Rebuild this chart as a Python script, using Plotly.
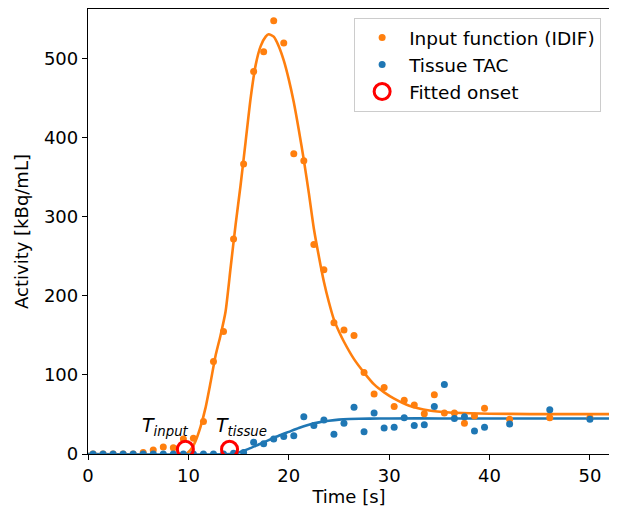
import plotly.graph_objects as go

# sample times [s]: 1 s frames up to 40 s, then 4 s frames
time_s = [0.5, 1.5, 2.5, 3.5, 4.5, 5.5, 6.5, 7.5, 8.5, 9.5,
          10.5, 11.5, 12.5, 13.5, 14.5, 15.5, 16.5, 17.5, 18.5, 19.5,
          20.5, 21.5, 22.5, 23.5, 24.5, 25.5, 26.5, 27.5, 28.5, 29.5,
          30.5, 31.5, 32.5, 33.5, 34.5, 35.5, 36.5, 37.5, 38.5, 39.5,
          42, 46, 50]

# input function (IDIF) samples [kBq/mL]
idif = [0, 0, 0, 0, 0, 2, 5, 9, 8, 19,
        20, 41, 117, 155, 272, 367, 484, 509, 548, 520,
        380, 371, 265, 233, 166, 157, 150, 103, 76, 84,
        60, 68, 62, 51, 75, 52, 52, 39, 48, 58,
        44, 46, 46]

# tissue TAC samples [kBq/mL]
tissue = [0, 0, 0, 0, 0, 0, 0, 0, 0, 0,
          0, 0, 0, 0, 1, 2, 15, 13, 19, 22,
          23, 47, 36, 43, 25, 39, 59, 28, 52, 33,
          34, 46, 36, 37, 60, 88, 45, 47, 29, 34,
          38, 56, 44]

# fitted curves
fit_idif_t = [0, 9.7, 10.2, 10.7, 11.2, 11.7, 12.2, 12.7, 13.2, 13.7,
              14.2, 14.7, 15.2, 15.7, 16.2, 16.7, 17.2, 17.7, 18.0, 18.5,
              19.0, 19.5, 20.0, 20.5, 21.0, 21.5, 22.0, 22.5, 23.0, 23.5,
              24.0, 24.5, 25.0, 25.5, 26.5, 27.5, 28.5, 29.5, 30.5, 32,
              34, 36, 38, 40, 44, 52]
fit_idif = [0, 0, 5, 16, 34, 58, 90, 124, 150, 180,
            235, 290, 340, 395, 450, 492, 516, 528, 531, 528,
            516, 498, 474, 445, 410, 372, 330, 285, 250, 218,
            192, 170, 155, 142, 120, 103, 88, 78, 70, 61,
            55, 52.5, 51.5, 51, 50.5, 50.5]

fit_tissue_t = [0, 14.1, 15, 16, 17, 18, 19, 20, 21, 22, 23, 24, 25, 26, 28, 30, 35, 52]
fit_tissue = [0, 0, 2, 6.5, 12, 17.5, 23, 28, 33, 37, 40, 42, 43.5, 44.2, 44.8, 45, 45, 45]

# fitted onsets
onset_t = [9.7, 14.1]
onset_y = [6, 6]

ORANGE = '#ff7f0e'
BLUE = '#1f77b4'
FONT = 'DejaVu Sans'

fig = go.Figure()

fig.add_trace(go.Scatter(x=fit_idif_t, y=fit_idif, mode='lines', showlegend=False,
                         line=dict(color=ORANGE, width=2.6, shape='spline', smoothing=0.6)))
fig.add_trace(go.Scatter(x=fit_tissue_t, y=fit_tissue, mode='lines', showlegend=False,
                         line=dict(color=BLUE, width=2.6, shape='spline', smoothing=0.6)))
fig.add_trace(go.Scatter(x=time_s, y=idif, mode='markers', name='Input function (IDIF)',
                         marker=dict(color=ORANGE, size=7)))
fig.add_trace(go.Scatter(x=time_s, y=tissue, mode='markers', name='Tissue TAC',
                         marker=dict(color=BLUE, size=7)))
fig.add_trace(go.Scatter(x=onset_t, y=onset_y, mode='markers', name='Fitted onset',
                         marker=dict(symbol='circle-open', color='red', size=16,
                                     line=dict(color='red', width=3))))

fig.add_annotation(x=5.2, y=35, xref='x', yref='y', xanchor='left', yanchor='middle',
                   text='<i>T</i><sub><i>input</i></sub>', showarrow=False,
                   font=dict(family=FONT, size=19, color='black'))
fig.add_annotation(x=12.6, y=35, xref='x', yref='y', xanchor='left', yanchor='middle',
                   text='<i>T</i><sub><i>tissue</i></sub>', showarrow=False,
                   font=dict(family=FONT, size=19, color='black'))

axis_style = dict(showline=True, linecolor='black', linewidth=1.3, mirror=True,
                  ticks='outside', ticklen=5, tickwidth=1.3, tickcolor='black',
                  showgrid=False, zeroline=False, automargin=False,
                  tickfont=dict(family=FONT, size=18, color='black'),
                  title_font=dict(family=FONT, size=18, color='black'))

# the page body adds an 8 px offset, so the figure is 8 px smaller each way
fig.update_layout(
    width=609,
    height=502,
    margin=dict(l=80, r=7, t=1, b=56),
    paper_bgcolor='white',
    plot_bgcolor='white',
    font=dict(family=FONT, size=18, color='black'),
    xaxis=dict(range=[0, 52], tickvals=[0, 10, 20, 30, 40, 50], title_text='Time [s]',
               title_standoff=4, **axis_style),
    yaxis=dict(range=[0, 563], tickvals=[0, 100, 200, 300, 400, 500],
               title_text='Activity [kBq/mL]', title_standoff=10, **axis_style),
    legend=dict(x=0.983, y=0.98, xanchor='right', yanchor='top',
                bgcolor='rgba(255,255,255,0.8)', bordercolor='#cccccc', borderwidth=1,
                font=dict(family=FONT, size=18.5, color='black'),
                tracegroupgap=0, itemsizing='trace', itemwidth=44),
)

fig.write_html("out.html")
